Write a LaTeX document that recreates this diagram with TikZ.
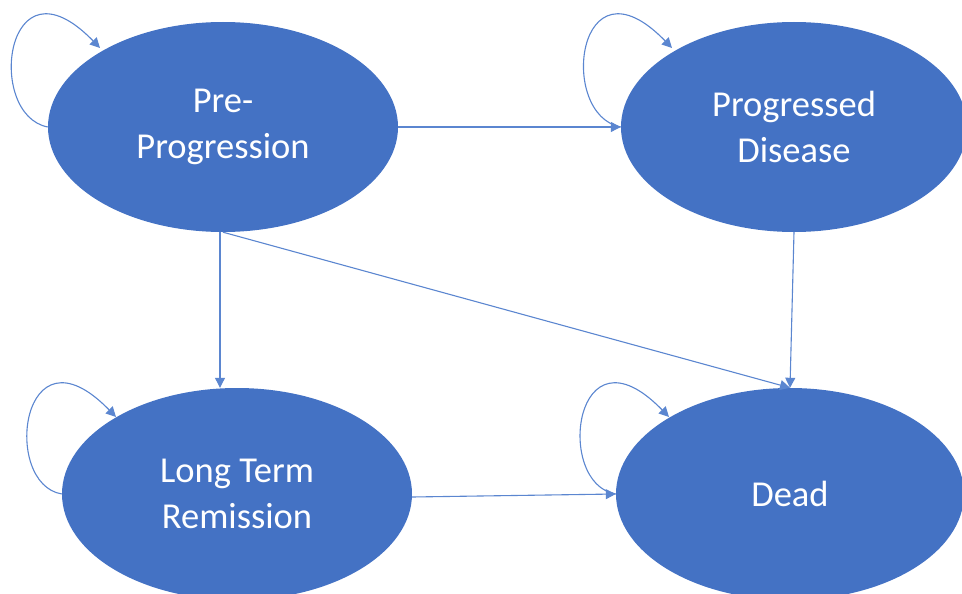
\documentclass[tikz,border=0pt]{standalone}
\usepackage{fontspec}
\setmainfont{Carlito}
\usetikzlibrary{arrows.meta,shapes.geometric}
\definecolor{stblue}{HTML}{4472C4}
\definecolor{lnblue}{HTML}{5B86D0}
\begin{document}
\begin{tikzpicture}[x=1pt,y=-1pt,
  state/.style={ellipse,fill=stblue,draw=none,text=white,inner sep=0pt,align=center,
    font=\fontsize{36.5}{46}\selectfont},
  conn/.style={draw=lnblue,line width=1.1pt,-{Triangle[width=10pt,length=10pt]}}]
\useasboundingbox (0,0) rectangle (962,594);
\clip (0,0) rectangle (962,594);
\node[state,minimum width=350pt,minimum height=210pt] (pre) at (223,127) {Pre-\\Progression};
\node[state,minimum width=346pt,minimum height=210pt] (prog) at (794,127) {Progressed\\Disease};
\node[state,minimum width=350pt,minimum height=212pt] (ltr) at (237,494) {Long Term\\Remission};
\node[state,minimum width=348pt,minimum height=212pt] (dead) at (790,494) {Dead};
% connectors
\draw[conn] (pre.east) -- (prog.west);
\draw[conn] ([xshift=-3pt]pre.south) -- ([xshift=-3pt]ltr.north -| pre.south);
\draw[conn] (pre.south) -- (dead.north);
\draw[conn] (prog.south) -- (dead.north);
\draw[conn] ([yshift=-3pt]ltr.east) -- (dead.west);
% self loops
\draw[conn] (pre.west) .. controls (-15,115) and (5,-50) .. (100,48);
\draw[conn] (prog.west) .. controls (557,115) and (577,-50) .. (672,48);
\draw[conn] (ltr.west) .. controls (1,484) and (21,319) .. (116,417);
\draw[conn] (dead.west) .. controls (554,484) and (574,319) .. (669,417);
\end{tikzpicture}
\end{document}
